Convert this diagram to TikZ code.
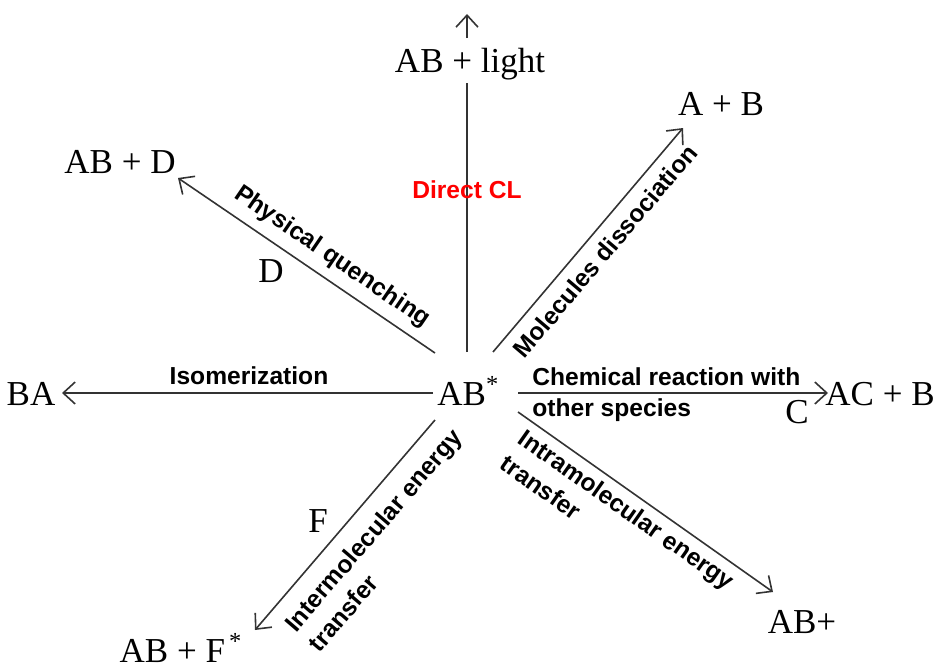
\documentclass[tikz,border=0pt]{standalone}
\usepackage{fontspec}
\setmainfont{Liberation Serif}
\newfontfamily\lblfont{Liberation Sans}
\usetikzlibrary{arrows.meta}
\begin{document}
\begin{tikzpicture}[x=0.5pt,y=-0.5pt,
  spc/.style={font=\fontsize{17.5}{20}\selectfont, inner sep=0pt},
  lbl/.style={font=\lblfont\bfseries\fontsize{12.3}{15.5}\selectfont, inner sep=0pt, align=left},
  conn/.style={draw=black!80, line width=0.8pt},
  arr/.style={conn, -{Straight Barb[length=6pt,width=11pt]}}]
\useasboundingbox (0,0) rectangle (934,669);
% species
\node[spc, anchor=base west] (ab) at (437,405) {AB\textsuperscript{*}};
\node[spc, anchor=base] (light) at (470,72) {AB + light};
\node[spc, anchor=base] (apb) at (721,115) {A + B};
\node[spc, anchor=base] (abd) at (120,173) {AB + D};
\node[spc, anchor=base] (ba) at (31,405) {BA};
\node[spc, anchor=base] (acb) at (880,405) {AC + B};
\node[spc, anchor=base] (abp) at (802,633) {AB+};
\node[spc, anchor=base] (abf) at (181,662) {AB + F\textsuperscript{\,*}};
\node[spc, anchor=base] (c) at (797,423) {C};
\node[spc, anchor=base] (d) at (271,282) {D};
\node[spc, anchor=base] (f) at (318,532) {F};
% connector ends
\coordinate (s1) at (467,352); \coordinate (e1) at (467,83);
\coordinate (s2) at (467,38);  \coordinate (e2) at (467,14);
\coordinate (s3) at (435,353); \coordinate (e3) at (178,178);
\coordinate (s4) at (493,352); \coordinate (e4) at (683,128);
\coordinate (s5) at (433,393); \coordinate (e5) at (62,393);
\coordinate (s6) at (518,393); \coordinate (e6) at (828,393);
\coordinate (s7) at (518,412); \coordinate (e7) at (773,592);
\coordinate (s8) at (435,420); \coordinate (e8) at (255,630);
\draw[conn] (s1) -- (e1);
\draw[arr] (s2) -- (e2);
\draw[arr] (s3) -- (e3);
\draw[arr] (s4) -- (e4);
\draw[arr] (s5) -- (e5);
\draw[arr] (s6) -- (e6);
\draw[arr] (s7) -- (e7);
\draw[arr] (s8) -- (e8);
% process labels
\node[lbl, text=red] (dcl) at (467,190) {Direct CL};
\node[lbl, rotate=-34.3] (pq) at (332,257) {Physical quenching};
\node[lbl, rotate=49.7] (md) at (605,251) {Molecules dissociation};
\node[lbl] (iso) at (249,376) {Isomerization};
\node[lbl, anchor=west] (crs) at (532,395) {Chemical reaction with\\other species};
\node[lbl, rotate=-35.1] (intra) at (618,522) {Intramolecular energy\\transfer};
\node[lbl, rotate=49.4] (inter) at (385,540) {Intermolecular energy\\transfer};
\end{tikzpicture}
\end{document}
